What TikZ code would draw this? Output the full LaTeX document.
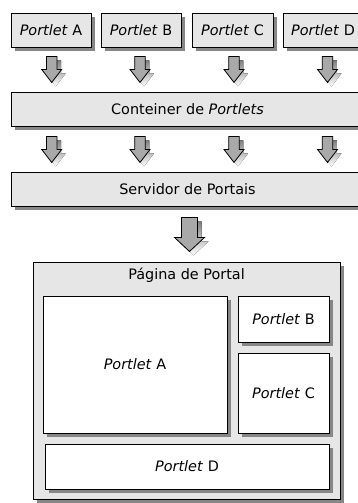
\documentclass[tikz,border=0pt]{standalone}
\usepackage{fontspec}
\setmainfont{DejaVu Sans}
\usetikzlibrary{shadows,calc}
\definecolor{boxfill}{HTML}{E6E6E6}
\definecolor{shade}{HTML}{878787}
\definecolor{arrowfill}{HTML}{A9A9A9}
\begin{document}
\begin{tikzpicture}[x=1pt,y=-1pt,
  box/.style={draw=black, line width=0.9pt, fill=boxfill, inner sep=0pt,
    text height=10.5pt, text depth=0pt,
    font=\fontsize{14.4}{17}\selectfont,
    general shadow={fill=shade, shadow xshift=4pt, shadow yshift=-4pt}},
  whitebox/.style={box, fill=white},
  labeltext/.style={font=\fontsize{14.4}{17}\selectfont, inner sep=0pt},
  % block arrow pointing down: shaft half width, head half width, head start, tip
  pics/blockarrow/.style n args={4}{code={
    \fill[shade] (-#1+4,4) -- (#1+4,4) -- (#1+4,#3+4) -- (#2+4,#3+4)
      -- (4,#4+4) -- (-#2+4,#3+4) -- (-#1+4,#3+4) -- cycle;
    \filldraw[fill=arrowfill, draw=black, line width=0.8pt, line join=miter]
      (-#1,0) -- (#1,0) -- (#1,#3) -- (#2,#3) -- (0,#4) -- (-#2,#3) -- (-#1,#3) -- cycle;
  }}]
\useasboundingbox (0,0) rectangle (357,503);

% portlets
\node[box, minimum width=80pt, minimum height=34pt] (pA) at (51,30) {\textit{Portlet} A};
\node[box, minimum width=80pt, minimum height=34pt] (pB) at (141,30) {\textit{Portlet} B};
\node[box, minimum width=81pt, minimum height=34pt] (pC) at (232.5,30) {\textit{Portlet} C};
\node[box, minimum width=80pt, minimum height=34pt] (pD) at (323,30) {\textit{Portlet} D};

% container and portal server
\node[box, minimum width=353pt, minimum height=34pt] (cont) at (187.5,109) {Conteiner de \textit{Portlets}};
\node[box, minimum width=353pt, minimum height=34pt] (serv) at (187.5,189) {Servidor de Portais};

% portlets into the container
\pic at ($(pA.south)+(0.7,9)$) {blockarrow={5.3}{10}{13}{26}};
\pic at ($(pB.south)+(-1,9)$) {blockarrow={5.3}{10}{13}{26}};
\pic at ($(pC.south)+(1.5,9)$) {blockarrow={5.3}{10}{13}{26}};
\pic at ($(pD.south)+(4.5,9)$) {blockarrow={5.3}{10}{13}{26}};

% container into the server
\pic at ($(cont.south -| pA.south)+(0.7,10)$) {blockarrow={5.3}{10}{13}{26}};
\pic at ($(cont.south -| pB.south)+(-1,10)$) {blockarrow={5.3}{10}{13}{26}};
\pic at ($(cont.south -| pC.south)+(1.5,10)$) {blockarrow={5.3}{10}{13}{26}};
\pic at ($(cont.south -| pD.south)+(4.5,10)$) {blockarrow={5.3}{10}{13}{26}};

% server into the page
\pic at ($(serv.south)+(2,11)$) {blockarrow={8}{15}{20}{34}};

% portal page
\node[box, minimum width=307pt, minimum height=237pt] (page) at (186.5,380.5) {};
\node[labeltext, anchor=base] (ptitle) at (186.5,279.5) {Página de Portal};

\node[whitebox, minimum width=184pt, minimum height=137pt] (iA) at (135,364.5) {\textit{Portlet} A};
\node[whitebox, minimum width=91pt, minimum height=46pt] (iB) at (283.5,319) {\textit{Portlet} B};
\node[whitebox, minimum width=91pt, minimum height=80pt] (iC) at (283.5,393) {\textit{Portlet} C};
\node[whitebox, minimum width=284pt, minimum height=45pt] (iD) at (187,466.5) {\textit{Portlet} D};
\end{tikzpicture}
\end{document}
